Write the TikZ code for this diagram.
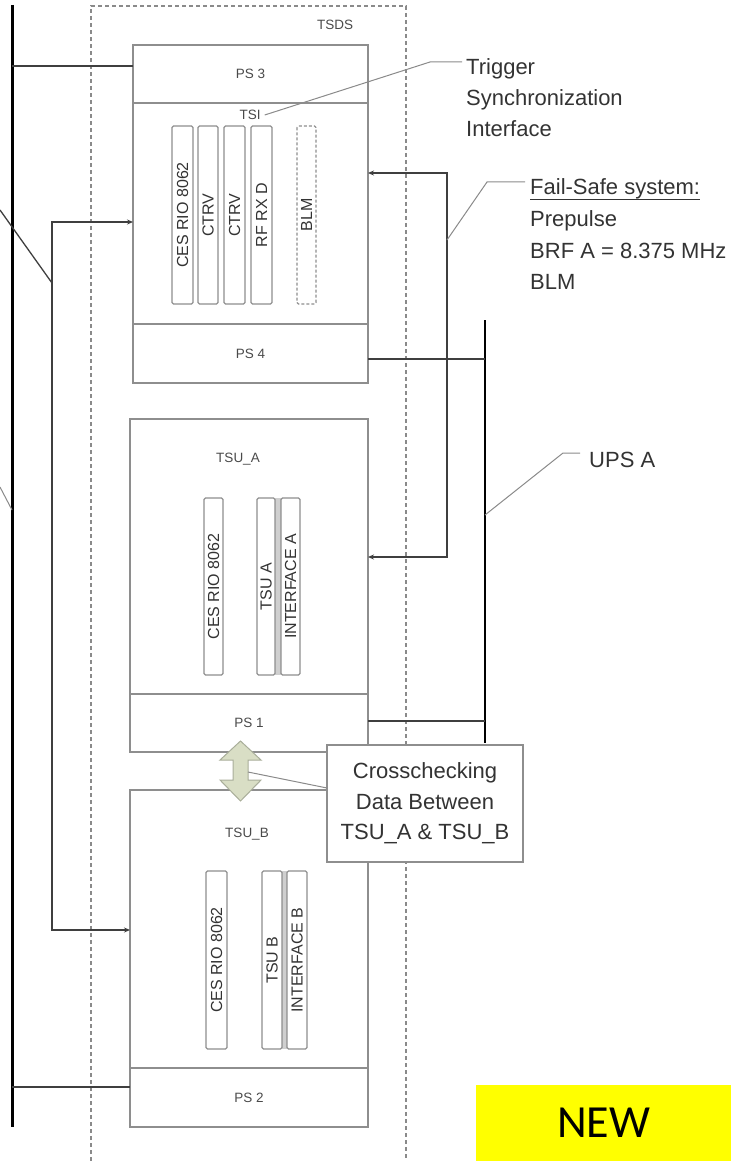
\documentclass[tikz,border=0pt]{standalone}
\usepackage{fontspec}
\setmainfont{Liberation Sans}
\newfontfamily\calibrifont{Carlito}
\usetikzlibrary{arrows.meta,calc}
\definecolor{boxgray}{HTML}{8E8E8E}
\definecolor{conngray}{HTML}{3F3F3F}
\definecolor{leadgray}{HTML}{8A8A8A}
\definecolor{textdark}{HTML}{333333}
\definecolor{textmid}{HTML}{4A4A4A}
\definecolor{arrowfill}{HTML}{D9DEC5}
\definecolor{arrowline}{HTML}{A9AE9A}
\definecolor{bandgray}{HTML}{CFCFCF}
\definecolor{newyellow}{HTML}{FFFF00}
\begin{document}
\begin{tikzpicture}[x=1pt,y=-1pt,
  unitbox/.style={draw=boxgray, line width=1.3pt, anchor=north west, inner sep=0pt, outer sep=0pt},
  psbox/.style={unitbox, font=\fontsize{13.5}{15}\selectfont, text=textmid},
  card/.style={draw=boxgray, line width=1.1pt, rounded corners=1.5pt, rotate=90, inner sep=0pt, outer sep=0pt, font=\fontsize{16}{17}\selectfont, text=textdark},
  small/.style={font=\fontsize{13.5}{15}\selectfont, text=textmid, inner sep=0pt},
  big/.style={font=\fontsize{22}{31}\selectfont, text=textdark, inner sep=0pt},
  conn/.style={draw=conngray, line width=1.3pt},
  bothtips/.style={{Stealth[length=6pt,width=5pt]}-{Stealth[length=6pt,width=5pt]}},
  lead/.style={draw=leadgray, line width=1pt},
  bus/.style={draw=black, line width=3pt},
  frame/.style={draw=leadgray, line width=1.2pt, dash pattern=on 4pt off 3pt},
]
\useasboundingbox (0,0) rectangle (731,1161);

% TSDS dashed frame
\draw[frame] (91,1175) -- (91,6) -- (406,6) -- (406,1175);
\node[small] (tsds) at (335,25) {TSDS};

% upper unit
\node[unitbox, minimum width=235pt, minimum height=338pt] (top) at (133,45) {};
\node[psbox, minimum width=235pt, minimum height=58pt] (ps3) at (133,45) {PS 3};
\node[psbox, minimum width=235pt, minimum height=59pt] (ps4) at (133,324) {PS 4};
\node[small] (tsi) at (250,115) {TSI};
\node[card, minimum width=178pt, minimum height=21pt] (c1) at (182.5,215) {CES RIO 8062};
\node[card, minimum width=178pt, minimum height=20pt] (c2) at (208,215) {CTRV};
\node[card, minimum width=178pt, minimum height=21pt] (c3) at (234.5,215) {CTRV};
\node[card, minimum width=178pt, minimum height=21pt] (c4) at (261.5,215) {RF RX D\hspace{12pt}};
\node[card, dash pattern=on 3pt off 2pt, minimum width=178pt, minimum height=19pt] (c5) at (306.5,215) {BLM};

% TSU_A
\node[unitbox, minimum width=238pt, minimum height=333pt] (tsua) at (130,419) {};
\node[psbox, minimum width=238pt, minimum height=58pt] (ps1) at (130,694) {PS 1};
\node[small] (tsualbl) at (238,459) {TSU\_A};
\fill[bandgray] (275,498) rectangle (281,675);
\node[card, minimum width=177pt, minimum height=19pt] (a1) at (213.5,586.5) {CES RIO 8062};
\node[card, minimum width=177pt, minimum height=18pt] (a2) at (266,586.5) {TSU A};
\node[card, minimum width=177pt, minimum height=19pt] (a3) at (290.5,586.5) {INTERFACE A};

% TSU_B
\node[unitbox, minimum width=238pt, minimum height=337pt] (tsub) at (130,790) {};
\node[psbox, minimum width=238pt, minimum height=59pt] (ps2) at (130,1068) {PS 2};
\node[small] (tsublbl) at (247,834) {TSU\_B};
\fill[bandgray] (282,871) rectangle (287,1049);
\node[card, minimum width=178pt, minimum height=21pt] (b1) at (216.5,960) {CES RIO 8062};
\node[card, minimum width=178pt, minimum height=20pt] (b2) at (272,960) {TSU B};
\node[card, minimum width=178pt, minimum height=20pt] (b3) at (297,960) {INTERFACE B};

% helper levels
\coordinate (L66) at (0,66);
\coordinate (L1087) at (0,1087);
\coordinate (L359) at (0,359);
\coordinate (L721) at (0,721);
\coordinate (L173) at (0,173);
\coordinate (L557) at (0,557);
\coordinate (L222) at (0,222);
\coordinate (L930) at (0,930);
\coordinate (L515) at (0,515);

% left bus
\coordinate (busLt) at (12,5);
\coordinate (busLb) at (12,1127);
\draw[bus] (busLt) -- (busLb);
\draw[conn] (busLt |- L66) -- (top.west |- L66);
\draw[conn] (busLt |- L1087) -- (tsub.west |- L1087);

% right UPS bus
\coordinate (busRt) at (485,320);
\coordinate (busRb) at (485,743);
\draw[bus, line width=2.6pt] (busRt) -- (busRb);
\draw[conn] (ps4.east |- L359) -- (busRt |- L359);
\draw[conn] (ps1.east |- L721) -- (busRt |- L721);

% fail-safe signals
\coordinate (fsA) at (447,173);
\coordinate (fsB) at (447,557);
\draw[conn, bothtips] (top.east |- L173) -- (fsA) -- (fsB) -- (tsua.east |- L557);

% control signals on the left
\coordinate (ctA) at (52,222);
\coordinate (ctB) at (52,930);
\draw[conn, bothtips] (top.west |- L222) -- (ctA) -- (ctB) -- (tsub.west |- L930);
\coordinate (d1a) at (0,210);
\coordinate (d1b) at (52,283);
\draw[conn] (d1a) -- (d1b);
\coordinate (d2a) at (0,487);
\coordinate (d2b) at (12,510);
\draw[lead] (d2a) -- (d2b);

% labels with leaders
\node[big, anchor=north west, align=left] (trig) at (466,58.5) {Trigger\\Synchronization\\Interface};
\coordinate (tsiK) at (430,62);
\draw[lead] ([xshift=4pt]tsi.east) -- (tsiK) -- ([xshift=-4pt]trig.west |- tsiK);

\node[big, anchor=base west] (fs1) at (530,195) {Fail-Safe system:};
\node[big, anchor=base west] (fs2) at (530,226.5) {Prepulse};
\node[big, anchor=base west] (fs3) at (530,258) {BRF A = 8.375 MHz};
\node[big, anchor=base west] (fs4) at (530,289.3) {BLM};
\draw[textdark, line width=1pt] ([yshift=-4.5pt]fs1.base west) -- ([yshift=-4.5pt]fs1.base east);
\coordinate (fsL) at (447,240);
\coordinate (fsK) at (487,182);
\draw[lead] (fsL) -- (fsK) -- ([xshift=-5pt]fs1.west |- fsK);

\node[big, anchor=base west] (ups) at (589,467) {UPS A};
\coordinate (upsK) at (563,453);
\draw[lead] (busRt |- L515) -- (upsK) -- ([xshift=-9pt]ups.west |- upsK);

% crosschecking
\coordinate (arrowP) at (248,772);
\draw[draw=arrowline, fill=arrowfill, line width=1pt] (240.5,741) -- (261,760) -- (248,760) -- (248,780) -- (261,780) -- (240.5,801) -- (220,780) -- (233,780) -- (233,760) -- (220,760) -- cycle;
\node[unitbox, fill=white, minimum width=196pt, minimum height=117pt, align=center, font=\fontsize{22}{30.5}\selectfont, text=textdark] (cross) at (327,745) {Crosschecking\\Data Between\\TSU\_A \& TSU\_B};
\draw[lead] (arrowP) -- ([yshift=-43pt]cross.north west);

% NEW tag
\node[fill=newyellow, anchor=north west, minimum width=255pt, minimum height=76pt, inner sep=0pt, font=\calibrifont\fontsize{46}{50}\selectfont] (new) at (476,1085) {NEW};
\end{tikzpicture}
\end{document}
